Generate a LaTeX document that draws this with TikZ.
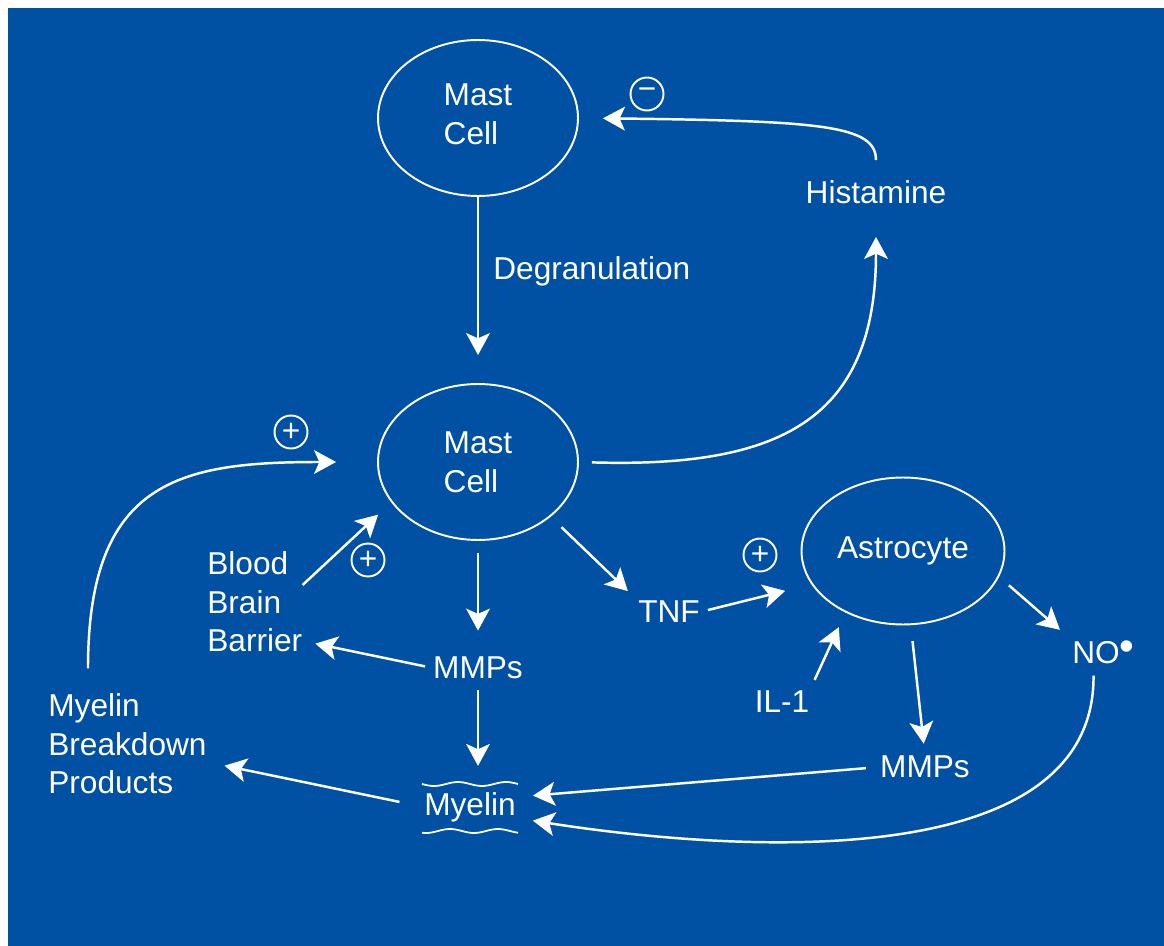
\documentclass[tikz,border=0pt]{standalone}
\usepackage{fontspec}
\setmainfont{Liberation Sans}
\usetikzlibrary{arrows.meta,shapes.geometric}
\definecolor{bgblue}{RGB}{0,80,164}

\begin{document}
\begin{tikzpicture}[x=0.02cm, y=-0.02cm,
  every node/.style={text=white, font=\fontsize{18}{22}\selectfont},
  cell/.style={ellipse, draw=white, line width=1.1pt, align=left,
    minimum width=4cm, minimum height=3.12cm},
  word/.style={inner sep=0pt, align=left},
  arr/.style={draw=white, line width=1.4pt,
    -{Stealth[length=12.5pt, width=13.5pt, inset=3pt]}},
  sign/.style={circle, draw=white, line width=1.1pt, minimum size=0.66cm,
    inner sep=0pt, font=\fontsize{18}{18}\selectfont},
  wave/.style={draw=white, line width=1pt}]
\useasboundingbox (0,0) rectangle (1164,946);
\fill[bgblue] (8,8) rectangle (1164,946);

% cells
\node[cell, text depth=4.5pt] (mast1) at (478,118) {Mast\\Cell};
\node[cell] (mast2) at (478,462) {Mast\\Cell};
\node[cell, minimum width=3.94cm, minimum height=2.94cm] (astro) at (903,551) {Astrocyte};

% labels
\node[word, anchor=west] (degran) at (493,271) {Degranulation};
\node[word] (hist) at (876,192) {Histamine};
\node[word, anchor=west] (bbb) at (207,602) {Blood\\Brain\\Barrier};
\node[word, anchor=west] (mbp) at (48,744) {Myelin\\Breakdown\\Products};
\node[word] (mmp1) at (478,668) {MMPs};
\node[word] (myelin) at (470,807) {Myelin};
\node[word] (tnf) at (669,612) {TNF};
\node[word] (il1) at (782,702) {IL-1};
\node[word] (mmp2) at (925,767) {MMPs};
\node[word, anchor=west] (no) at (1072,652) {NO{\fontsize{24}{24}\selectfont\raisebox{1.5pt}{\textbullet}}};

% signs
\node[sign] (minus) at (647,94) {−};
\node[sign] (plus1) at (291,432) {+};
\node[sign] (plus2) at (368,560) {+};
\node[sign] (plus3) at (760,555) {+};

% myelin sheath
\begin{scope}[shift={(myelin.center)}]
\draw[wave] plot[smooth, domain=-48:48, samples=30] (\x, {-23+2*sin(7.5*\x)});
\draw[wave] plot[smooth, domain=-48:48, samples=30] (\x, {24+2*sin(7.5*\x+60)});
\end{scope}

% connectors
\draw[arr, shorten >=0.56cm] (mast1.south) -- (mast2.north);
\draw[arr, shorten <=0.4cm, shorten >=0.48cm] (hist.north) .. controls (876,125) and (820,121) .. (mast1.east);
\draw[arr, shorten <=0.26cm, shorten >=0.66cm] (mast2.east) .. controls (780,468) and (876,420) .. (hist.south);
\draw[arr, shorten <=0.5cm, shorten >=0.82cm] ([xshift=0.8cm]mbp.north west) .. controls (88,480) and (180,462) .. (mast2.west);
\draw[arr, shorten >=0.36cm] ([yshift=0.34cm]bbb.east) -- (mast2.205);
\draw[arr, shorten <=0.24cm, shorten >=0.52cm] (mast2.south) -- (mmp1.north);
\draw[arr, shorten <=0.16cm, shorten >=0.26cm] (mmp1.west) -- ([yshift=-0.78cm]bbb.east);
\draw[arr, shorten <=0.22cm, shorten >=0.52cm] (mmp1.south) -- (mmp1.south |- myelin.north);
\draw[arr, shorten <=0.5cm, shorten >=0.36cm] (myelin.west) -- ([yshift=-0.36cm]mbp.east);
\draw[arr, shorten <=0.3cm, shorten >=0.28cm] (mast2.-37) -- (tnf.north west);
\draw[arr, shorten <=0.16cm, shorten >=0.54cm] (tnf.east) -- (astro.200);
\draw[arr, shorten <=0.24cm, shorten >=0.32cm] (il1.north east) -- (astro.227);
\draw[arr, shorten <=0.32cm, shorten >=0.24cm] (astro.-84) -- (mmp2.north);
\draw[arr, shorten <=0.28cm, shorten >=0.34cm] (mmp2.west) -- ([yshift=0.2cm]myelin.east);
\draw[arr, shorten <=0.26cm, shorten >=0.32cm] (astro.-15) -- (no.north west);
\draw[arr, shorten <=0.24cm, shorten >=0.34cm] ([xshift=-0.2cm]no.south) .. controls (1095,880) and (720,850) .. ([yshift=-0.22cm]myelin.east);
\end{tikzpicture}
\end{document}
